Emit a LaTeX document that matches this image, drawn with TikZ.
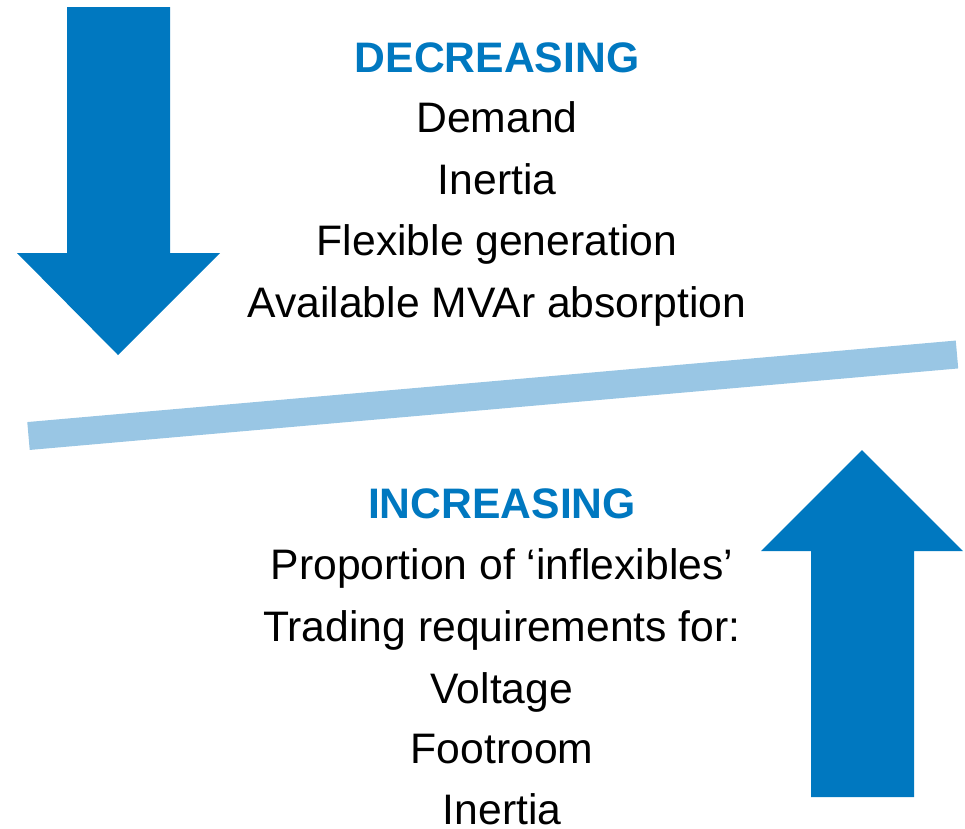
\documentclass[tikz,border=0pt]{standalone}
\usepackage{fontspec}
\setmainfont{Liberation Sans}
\definecolor{arrowblue}{RGB}{0,120,192}
\definecolor{barblue}{RGB}{153,198,228}
\tikzset{
  heading/.style={anchor=base, inner sep=0pt, text=arrowblue,
    font=\fontsize{32}{38}\selectfont\bfseries},
  item/.style={anchor=base, inner sep=0pt,
    font=\fontsize{32}{38}\selectfont}
}
\begin{document}
\begin{tikzpicture}[x=0.75pt, y=-0.75pt]

\useasboundingbox (0,0) rectangle (965,829);

% Down arrow
\fill[arrowblue]
    (67,7) -- (170,7) -- (170,253) -- (220,253)
    -- (118,355) -- (17,253) -- (67,253) -- cycle;

% Up arrow
\fill[arrowblue]
    (862,450) -- (963,551) -- (914,551) -- (914,797)
    -- (811,797) -- (811,551) -- (761,551) -- cycle;

% Tilted bar
\coordinate (barL) at (28.5,436);
\coordinate (barR) at (957,354.5);
\draw[barblue, line width=21pt] (barL) -- (barR);

% Decreasing list
\node[heading] (dec) at (497,72) {DECREASING};
\node[item] (dec1) at (497,132) {Demand};
\node[item] (dec2) at (497,194) {Inertia};
\node[item] (dec3) at (497,255) {Flexible generation};
\node[item] (dec4) at (497,317) {Available MVAr absorption};

% Increasing list
\node[heading] (inc) at (502,518) {INCREASING};
\node[item] (inc1) at (502,579) {Proportion of ‘inflexibles’};
\node[item] (inc2) at (502,641) {Trading requirements for:};
\node[item] (inc3) at (502,703) {Voltage};
\node[item] (inc4) at (502,763) {Footroom};
\node[item] (inc5) at (502,824) {Inertia};

\end{tikzpicture}
\end{document}
